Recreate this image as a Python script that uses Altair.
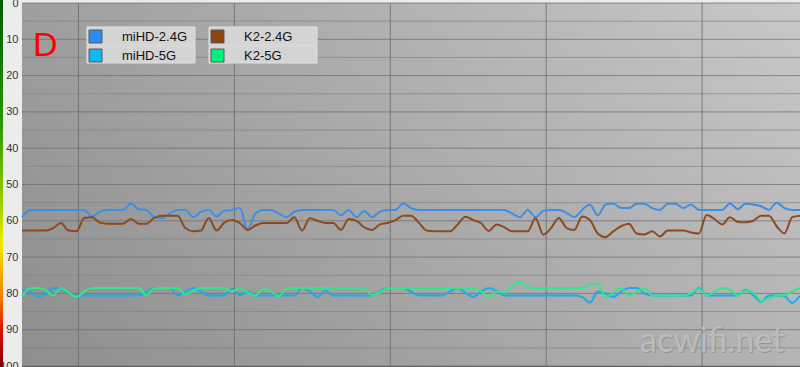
import altair as alt
import pandas as pd

series_names = ["miHD-2.4G", "miHD-5G", "K2-2.4G", "K2-5G"]
line_colors = ["#3b8fe8", "#1aaaf0", "#8c4a1e", "#2ee88c"]
swatch_colors = ["#2b8cf2", "#12b6f6", "#8b4513", "#00f07c"]

mihd_24 = [
    59, 57, 57, 57, 57, 57, 57, 57, 57, 58.8,
    57.5, 57, 57, 57, 55.2, 56.8, 57, 59, 59.3, 58,
    57, 57, 59, 57.5, 57, 58.8, 57.2, 57, 56.5, 62.5,
    58, 57, 57, 58, 59, 57.5, 57, 57, 57, 57,
    57, 58.5, 57, 59, 57.3, 59, 57.5, 57, 57, 55.2,
    56.5, 57, 57, 57, 57, 57, 57, 57, 57, 57,
    57, 57, 57, 58, 59, 57, 59, 57.3, 57, 57,
    57.8, 59, 57, 55.5, 58.5, 55.5, 55.2, 56.5, 56.5, 55.3,
    55.3, 56.5, 57, 55.3, 55.3, 56.5, 55.5, 57, 57, 57,
    57, 55.2, 56.8, 55.3, 55.5, 56, 57, 55, 56.5, 57,
    57]

mihd_5 = [
    79, 79.5, 80.9, 80.3, 78.5, 78.7, 79.8, 80.6, 80.6, 80.6,
    80.6, 80.6, 80.6, 80.6, 80.6, 80.6, 79.6, 78.5, 78.5, 78.5,
    80.5, 79.5, 78.5, 79.5, 80.6, 80.6, 80.6, 78.7, 80.5, 79.5,
    80.6, 80.6, 80.6, 80.6, 80.6, 80.6, 78.5, 79.5, 81, 79.3,
    80.6, 80.6, 80.6, 80.6, 80.6, 80.6, 79.5, 78.5, 78.5, 78.5,
    79.5, 80.6, 80.6, 80.6, 80.6, 79.5, 78.5, 79.8, 81, 79.5,
    78.5, 79.3, 80.6, 80.6, 80.6, 80.6, 80.6, 80.6, 80.6, 80.6,
    80.6, 80.6, 81, 82.6, 79.5, 80, 81, 79.5, 78.5, 78.5,
    80, 80.6, 80.6, 80.6, 80.6, 80.6, 80.6, 78.5, 80.6, 80.6,
    80.6, 80.6, 80.6, 79, 80.5, 82.3, 80.6, 80.6, 80.8, 82.6,
    80.6]

k2_24 = [
    62.7, 62.7, 62.7, 62.7, 62, 60.6, 62.7, 62.9, 59.2, 59,
    60.5, 60.8, 60.8, 60.8, 59.5, 60.8, 60.8, 59.2, 58.6, 58.6,
    58.6, 62, 62.9, 62.7, 59.2, 62.7, 60.5, 59.8, 60.6, 62.5,
    61.3, 60.6, 60.6, 60.6, 60.6, 59, 62.7, 59.3, 60, 60.6,
    60.6, 62.5, 59.5, 60, 61.8, 62.5, 61, 60.6, 59.8, 58.6,
    58.6, 60.5, 62.7, 62.9, 62.9, 62.9, 61, 58.9, 59.8, 60.6,
    62.8, 61, 61.8, 62.9, 62.9, 62.9, 59.3, 63.8, 62, 59.2,
    62, 62.5, 58.8, 59.8, 63.5, 64.5, 62.9, 61.5, 60.8, 63.5,
    63.8, 62.9, 64.3, 62.7, 62.7, 62.7, 63.2, 63.5, 58.4, 59.5,
    61, 59, 60.3, 60.4, 60, 58.6, 58.6, 61.5, 63.5, 59,
    58.6]

k2_5 = [
    80.8, 78.6, 78.5, 79, 80.6, 78.5, 79.8, 81, 79.5, 78.5,
    78.5, 78.5, 78.5, 78.5, 78.5, 78.5, 80.5, 78.6, 78.5, 78.5,
    78.5, 80.3, 79.3, 78.5, 78.5, 78.5, 78.5, 79.5, 78.5, 79.8,
    80.6, 78.8, 79.5, 80.8, 78.7, 78.5, 78.5, 78.5, 78.5, 78.5,
    78.5, 78.5, 78.5, 78.5, 78.8, 80.5, 79.8, 78.5, 78.5, 78.5,
    78.5, 78.5, 78.5, 78.5, 78.5, 78.5, 78.5, 78.5, 78.5, 79.5,
    80.8, 79.5, 79.8, 78, 76.8, 78.3, 78.5, 78.5, 78.5, 78.5,
    78.5, 78.5, 78.5, 77.5, 77.3, 81, 79.8, 78.5, 80.6, 79.5,
    78.6, 80.6, 80.6, 80.6, 80.6, 80.6, 80, 78.8, 80.6, 79.5,
    78.5, 79, 80.6, 79.2, 79.8, 82, 81.5, 80.6, 80.6, 79.5,
    78.5]

y_ticks = list(range(0, 101, 5))
x_grid = [7.26, 27.3, 47.34, 67.38, 87.42]
watermark = "acwifi.net"
panel_letter = "D"

rows = []
for name, vals in zip(series_names, [mihd_24, mihd_5, k2_24, k2_5]):
    for t, v in enumerate(vals):
        rows.append({"t": t, "series": name, "value": v})
df = pd.DataFrame(rows)

W, H = 778, 363
one = alt.Data(values=[{"k": 1}])
xs = alt.Scale(domain=[0, 100], nice=False, zero=False)
ys = alt.Scale(domain=[0, 100], nice=False, zero=False, reverse=True)
y_axis = alt.Axis(values=y_ticks, grid=False, ticks=False, domain=False, title=None,
                  labelExpr="datum.value % 10 == 0 ? datum.label : ''",
                  labelFont="Liberation Sans", labelFontSize=11, labelColor="#333333",
                  labelPadding=4, labelOverlap=False)

bg = alt.Chart(one).mark_rect(
    fill=alt.Gradient(gradient="linear", x1=0, x2=1, y1=0, y2=0,
                      stops=[alt.GradientStop(offset=0, color="#9e9e9e"),
                             alt.GradientStop(offset=1, color="#c8c8c8")])
).encode(x=alt.value(0), x2=alt.value(W), y=alt.value(0), y2=alt.value(H))

shade = alt.Chart(one).mark_rect(
    fill=alt.Gradient(gradient="linear", x1=0, x2=0, y1=0, y2=1,
                      stops=[alt.GradientStop(offset=0, color="rgba(0,0,0,0)"),
                             alt.GradientStop(offset=1, color="rgba(0,0,0,0.1)")])
).encode(x=alt.value(0), x2=alt.value(W), y=alt.value(0), y2=alt.value(H))

hgrid = alt.Chart(pd.DataFrame({"v": y_ticks})).mark_rule(strokeWidth=1).encode(
    y=alt.Y("v:Q", scale=ys, axis=y_axis),
    color=alt.condition("datum.v % 10 == 0", alt.value("#6f6f6f"), alt.value("#838383")),
    opacity=alt.condition("datum.v % 10 == 0", alt.value(0.75), alt.value(0.7)),
)

vgrid = alt.Chart(pd.DataFrame({"g": x_grid})).mark_rule(strokeWidth=1, color="#6a6a6a", opacity=0.8).encode(
    x=alt.X("g:Q", scale=xs, axis=None),
)

lines = alt.Chart(df).mark_line(strokeWidth=2, interpolate="monotone").encode(
    x=alt.X("t:Q", scale=xs, axis=None),
    y=alt.Y("value:Q", scale=ys, axis=y_axis),
    color=alt.Color("series:N", scale=alt.Scale(domain=series_names, range=line_colors), legend=None),
    detail="series:N",
)

strip = alt.Chart(one).mark_rect(
    fill=alt.Gradient(gradient="linear", x1=0, x2=0, y1=0, y2=1,
                      stops=[alt.GradientStop(offset=0, color="#005800"),
                             alt.GradientStop(offset=0.35, color="#2f9a00"),
                             alt.GradientStop(offset=0.55, color="#a0cc00"),
                             alt.GradientStop(offset=0.66, color="#ecec00"),
                             alt.GradientStop(offset=0.8, color="#f08800"),
                             alt.GradientStop(offset=0.9, color="#dd1100"),
                             alt.GradientStop(offset=1, color="#780000")])
).encode(x=alt.value(-22), x2=alt.value(-19), y=alt.value(-3), y2=alt.value(H + 1))

decor = []
box_x = [65, 187]
row_y = [(24, 42), (43, 60)]
for k in range(2):
    for r in range(2):
        idx = k * 2 + r
        decor.append(alt.Chart(one).mark_rect(fill="#d4d4d4", stroke="#e2e2e2", strokeWidth=1).encode(
            x=alt.value(box_x[k]), x2=alt.value(box_x[k] + 108),
            y=alt.value(row_y[r][0]), y2=alt.value(row_y[r][1])))
        decor.append(alt.Chart(one).mark_rect(fill=swatch_colors[idx], stroke="#5a5a5a", strokeWidth=1).encode(
            x=alt.value(box_x[k] + 2), x2=alt.value(box_x[k] + 15),
            y=alt.value(row_y[r][0] + 3), y2=alt.value(row_y[r][0] + 16)))
        decor.append(alt.Chart(one).mark_text(
            text=series_names[idx], font="Liberation Sans", fontSize=13, color="#111111",
            align="left", baseline="middle").encode(
            x=alt.value(box_x[k] + 35), y=alt.value(row_y[r][0] + 10)))

letter = alt.Chart(one).mark_text(
    text=panel_letter, font="Liberation Sans", fontSize=34, color="#ff0000",
    align="left", baseline="alphabetic").encode(x=alt.value(11), y=alt.value(53))

wm_shadow = alt.Chart(one).mark_text(
    text=watermark, font="Lato", fontSize=34, color="#8a8a8a", opacity=0.7,
    align="left", baseline="alphabetic").encode(x=alt.value(619), y=alt.value(350))
wm = alt.Chart(one).mark_text(
    text=watermark, font="Lato", fontSize=34, color="#c2c2c2", opacity=0.85,
    align="left", baseline="alphabetic").encode(x=alt.value(618), y=alt.value(349))

chart = alt.layer(bg, shade, hgrid, vgrid, wm_shadow, wm, lines, strip, letter, *decor).properties(
    width=W, height=H,
    padding={"left": 22, "top": 3, "right": 0, "bottom": 1},
    autosize=alt.AutoSizeParams(type="none"),
    background="#ececec",
).configure_view(stroke="#5a5a5a", strokeWidth=1)

chart.save("out.html", embed_options={"renderer": "svg", "actions": False})
